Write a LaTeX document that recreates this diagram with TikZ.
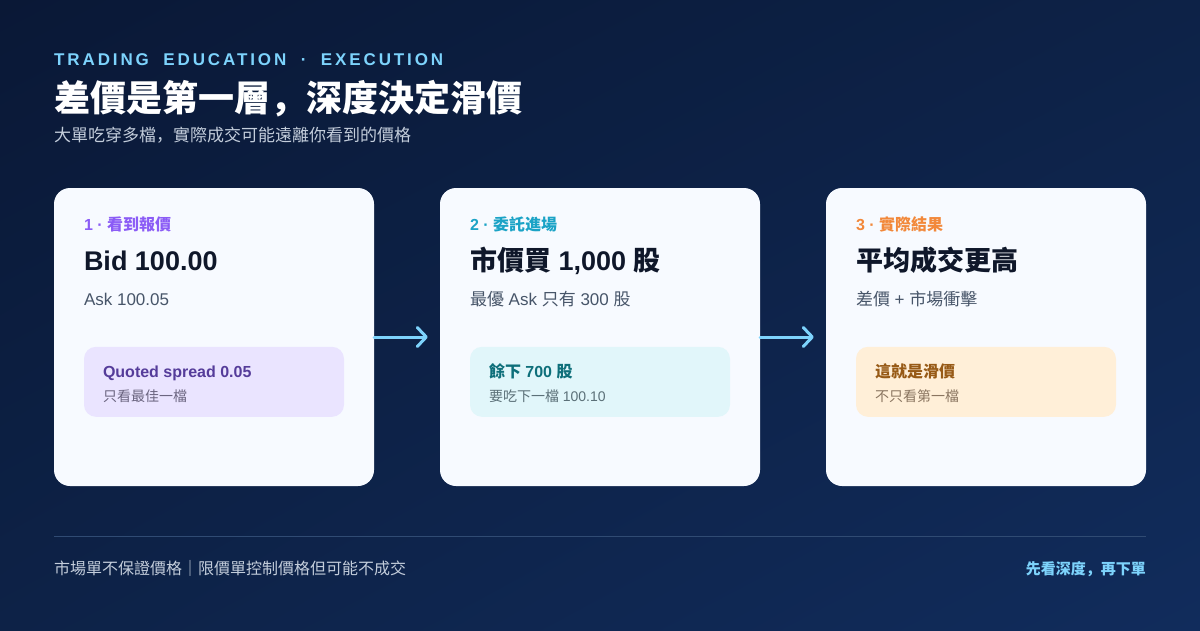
\documentclass[tikz,border=0pt]{standalone}
\usepackage{fontspec}
\setmainfont{Liberation Sans}
\newfontfamily\cjk{Noto Sans CJK SC}
\newfontfamily\spaced[LetterSpace=17,WordSpace=1.9]{Liberation Sans}
\usepackage{tikz}
\usetikzlibrary{arrows.meta,positioning,calc,shadings}

\definecolor{bgA}{HTML}{0A1836}
\definecolor{bgB}{HTML}{0D2247}
\definecolor{bgC}{HTML}{112C5C}
\definecolor{cardbg}{HTML}{F7FAFF}
\definecolor{sky}{HTML}{7DD3FC}
\definecolor{ink}{HTML}{0F172A}
\definecolor{slate}{HTML}{475569}
\definecolor{rule}{HTML}{304B73}
\definecolor{subtxt}{HTML}{C3CDDB}
\definecolor{violet}{HTML}{8B5CF6}
\definecolor{violetbg}{HTML}{EAE4FF}
\definecolor{violetdk}{HTML}{553C9A}
\definecolor{violetsub}{HTML}{6B6580}
\definecolor{teal}{HTML}{1BA3C6}
\definecolor{tealbg}{HTML}{E1F6FA}
\definecolor{tealdk}{HTML}{0E6F7A}
\definecolor{tealsub}{HTML}{5B7078}
\definecolor{amber}{HTML}{F2883A}
\definecolor{amberbg}{HTML}{FFEFD8}
\definecolor{amberdk}{HTML}{975A16}
\definecolor{ambersub}{HTML}{8A7560}

\newcommand\pxsize[1]{\fontsize{#1}{#1}\selectfont}

\begin{document}
\begin{tikzpicture}[x=1pt, y=-1pt,
    card/.style={fill=cardbg, rounded corners=16pt, minimum width=320pt, minimum height=298pt, inner sep=0pt},
    note/.style={rounded corners=12pt, minimum width=260pt, minimum height=70pt, inner sep=0pt},
    txt/.style={anchor=base west, inner sep=0pt},
    flow/.style={draw=sky, line width=3pt, line cap=round, -{Straight Barb[length=9pt, width=19pt, round]}}]

    % background
    \shade[upper left=bgA, upper right=bgB, lower left=bgB, lower right=bgC] (0,0) rectangle (1200,630);
    \useasboundingbox (0,0) rectangle (1200,630);

    % header
    \node[txt, text=sky, font=\spaced\bfseries\pxsize{17}] (kicker) at (54,65) {TRADING EDUCATION · EXECUTION};
    \node[txt, text=white, font=\cjk\bfseries\pxsize{36}] (headline) at (54,111) {差價是第一層，深度決定滑價};
    \node[txt, text=subtxt, font=\cjk\pxsize{17}] (lede) at (54,141) {大單吃穿多檔，實際成交可能遠離你看到的價格};

    % cards
    \node[card] (see) at (214,337) {};
    \node[card] (order) at (600,337) {};
    \node[card] (fill) at (986,337) {};

    \foreach \c/\bg in {see/violetbg, order/tealbg, fill/amberbg} {
        \node[note, fill=\bg] (\c-note) at ($(\c.north)+(0,194)$) {};
    }

    % card 1
    \node[txt, text=violet, font=\bfseries\pxsize{16}] (see-tag) at ($(see.north west)+(30,43)$) {1 · {\cjk 看到報價}};
    \node[txt, text=ink, font=\bfseries\pxsize{27}] (see-head) at ($(see.north west)+(30,83)$) {Bid 100.00};
    \node[txt, text=slate, font=\pxsize{17}] (see-sub) at ($(see.north west)+(30,118)$) {Ask 100.05};
    \node[txt, text=violetdk, font=\bfseries\pxsize{16}] (see-key) at ($(see-note.north west)+(19,31)$) {Quoted spread 0.05};
    \node[txt, text=violetsub, font=\cjk\pxsize{14}] (see-hint) at ($(see-note.north west)+(19,55)$) {只看最佳一檔};

    % card 2
    \node[txt, text=teal, font=\bfseries\pxsize{16}] (order-tag) at ($(order.north west)+(30,43)$) {2 · {\cjk 委託進場}};
    \node[txt, text=ink, font=\bfseries\pxsize{27}] (order-head) at ($(order.north west)+(30,83)$) {{\cjk 市價買} 1,000 {\cjk 股}};
    \node[txt, text=slate, font=\pxsize{17}] (order-sub) at ($(order.north west)+(30,118)$) {{\cjk 最優} Ask {\cjk 只有} 300 {\cjk 股}};
    \node[txt, text=tealdk, font=\bfseries\pxsize{16}] (order-key) at ($(order-note.north west)+(19,31)$) {{\cjk 餘下} 700 {\cjk 股}};
    \node[txt, text=tealsub, font=\pxsize{14}] (order-hint) at ($(order-note.north west)+(19,55)$) {{\cjk 要吃下一檔} 100.10};

    % card 3
    \node[txt, text=amber, font=\bfseries\pxsize{16}] (fill-tag) at ($(fill.north west)+(30,43)$) {3 · {\cjk 實際結果}};
    \node[txt, text=ink, font=\cjk\bfseries\pxsize{27}] (fill-head) at ($(fill.north west)+(30,83)$) {平均成交更高};
    \node[txt, text=slate, font=\pxsize{17}] (fill-sub) at ($(fill.north west)+(30,118)$) {{\cjk 差價} + {\cjk 市場衝擊}};
    \node[txt, text=amberdk, font=\cjk\bfseries\pxsize{16}] (fill-key) at ($(fill-note.north west)+(19,31)$) {這就是滑價};
    \node[txt, text=ambersub, font=\cjk\pxsize{14}] (fill-hint) at ($(fill-note.north west)+(19,55)$) {不只看第一檔};

    % arrows between cards
    \draw[flow] (see.east) -- ([xshift=-12pt]order.west);
    \draw[flow] (order.east) -- ([xshift=-12pt]fill.west);

    % footer
    \coordinate (rule-l) at (54,536);
    \coordinate (rule-r) at (1146,536);
    \draw[rule, line width=1pt] (rule-l) -- (rule-r);
    \node[txt, text=subtxt, font=\cjk\pxsize{16}] (foot-l) at (54,574) {市場單不保證價格｜限價單控制價格但可能不成交};
    \node[anchor=base east, inner sep=0pt, text=sky, font=\cjk\bfseries\pxsize{15}] (foot-r) at (1146,574) {先看深度，再下單};
\end{tikzpicture}
\end{document}
